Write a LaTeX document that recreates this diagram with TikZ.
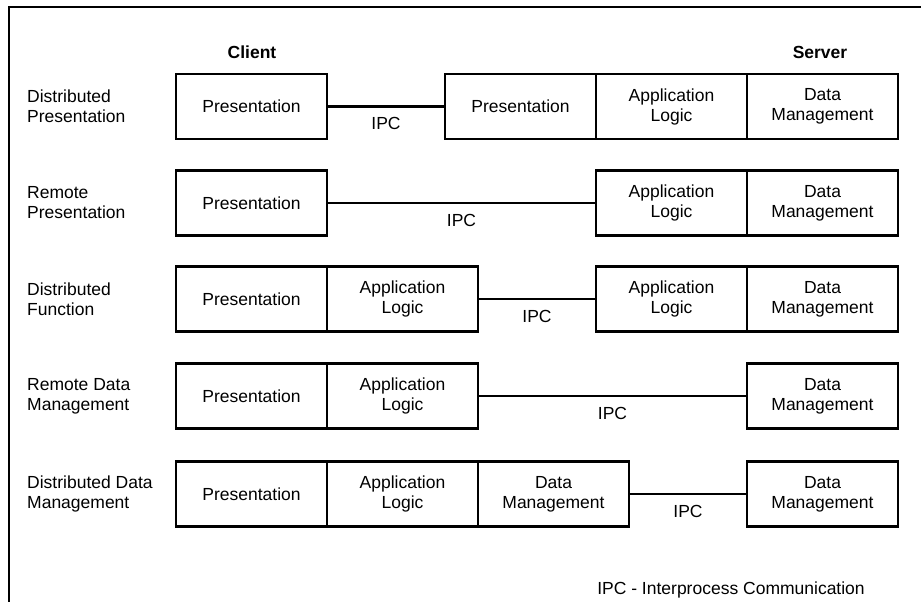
\documentclass[tikz,border=0pt]{standalone}
\usepackage{fontspec}
\setmainfont{Liberation Sans}
\begin{document}
\begin{tikzpicture}[x=1pt,y=-1pt,
  every node/.style={font=\fontsize{17.5}{20}\selectfont},
  cell/.style={draw, line width=2.2pt, rectangle, minimum width=151pt, minimum height=65pt, align=center, inner sep=0pt},
  rowlabel/.style={anchor=west, align=left, inner sep=0pt},
  head/.style={font=\fontsize{17.5}{20}\selectfont\bfseries},
  ipc/.style={line width=2.2pt},
  ipclab/.style={inner sep=0pt}]
\useasboundingbox (0,0) rectangle (921,602);
\draw[line width=2.2pt] (921,7) -- (9,7) -- (9,602);
\node[head] (client) at (252,52) {Client};
\node[head] (server) at (820,52) {Server};
% Row 1
\node[rowlabel] (l1) at (27,106.5) {Distributed\\Presentation};
\node[cell] (a1) at (251.5,106.5) {Presentation};
\node[cell] (s01) at (520.5,106.5) {Presentation};
\node[cell] (s11) at (671.5,106.5) {Application\\Logic};
\node[cell] (s21) at (822.5,106.5) {Data\\Management};
\draw[ipc] (a1.east) -- (s01.west) node[ipclab, midway, yshift=-17pt] (i1) {IPC};
% Row 2
\node[rowlabel] (l2) at (27,203) {Remote\\Presentation};
\node[cell] (a2) at (251.5,203) {Presentation};
\node[cell] (s12) at (671.5,203) {Application\\Logic};
\node[cell] (s22) at (822.5,203) {Data\\Management};
\draw[ipc] (a2.east) -- (s12.west) node[ipclab, midway, yshift=-17pt] (i2) {IPC};
% Row 3
\node[rowlabel] (l3) at (27,299) {Distributed\\Function};
\node[cell] (a3) at (251.5,299) {Presentation};
\node[cell] (b3) at (402.5,299) {Application\\Logic};
\node[cell] (s13) at (671.5,299) {Application\\Logic};
\node[cell] (s23) at (822.5,299) {Data\\Management};
\draw[ipc] (b3.east) -- (s13.west) node[ipclab, midway, yshift=-17pt] (i3) {IPC};
% Row 4
\node[rowlabel] (l4) at (27,396) {Remote Data\\Management};
\node[cell] (a4) at (251.5,396) {Presentation};
\node[cell] (b4) at (402.5,396) {Application\\Logic};
\node[cell] (s24) at (822.5,396) {Data\\Management};
\draw[ipc] (b4.east) -- (s24.west) node[ipclab, midway, yshift=-17pt] (i4) {IPC};
% Row 5
\node[rowlabel] (l5) at (27,494) {Distributed Data\\Management};
\node[cell] (a5) at (251.5,494) {Presentation};
\node[cell] (b5) at (402.5,494) {Application\\Logic};
\node[cell] (c5) at (553.5,494) {Data\\Management};
\node[cell] (s25) at (822.5,494) {Data\\Management};
\draw[ipc] (c5.east) -- (s25.west) node[ipclab, midway, yshift=-17pt] (i5) {IPC};
% Footer
\node (foot) at (731,590) {IPC - Interprocess Communication};
\end{tikzpicture}
\end{document}
